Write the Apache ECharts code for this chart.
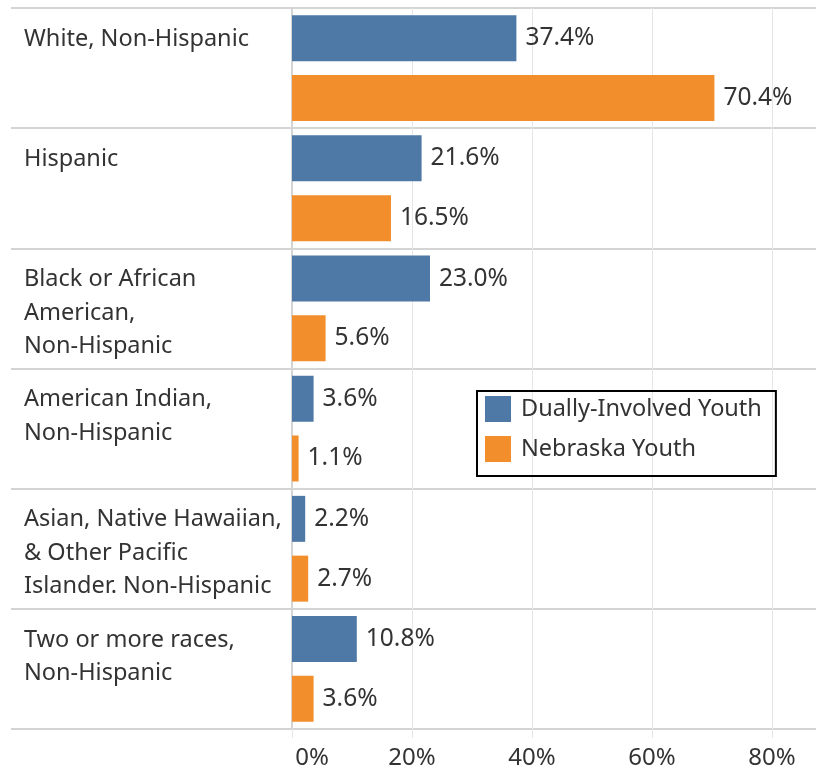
<!DOCTYPE html>
<html>
<head>
<meta charset="utf-8">
<script src="https://cdn.jsdelivr.net/npm/echarts@6/dist/echarts.min.js"></script>
<style>
  html, body { margin: 0; padding: 0; background: #fff; }
  #chart { width: 816px; height: 773px; }
</style>
</head>
<body>
<div id="chart"></div>
<script>
// categories, top to bottom
const categories = [
  'White, Non-Hispanic',
  'Hispanic',
  'Black or African\nAmerican,\nNon-Hispanic',
  'American Indian,\nNon-Hispanic',
  'Asian, Native Hawaiian,\n& Other Pacific\nIslander. Non-Hispanic',
  'Two or more races,\nNon-Hispanic',
]
const duallyInvolved = [37.4, 21.6, 23.0, 3.6, 2.2, 10.8]
const nebraska = [70.4, 16.5, 5.6, 1.1, 2.7, 3.6]
const xTicks = [0, 20, 40, 60, 80]

const FONT = 'Noto Sans'
const TEXT = '#333'
const LINE = '#d4d4d4'

const chart = echarts.init(document.getElementById('chart'))

const valueLabel = {
  show: true,
  position: 'right',
  distance: 9,
  fontSize: 24.5,
  color: TEXT,
  fontFamily: FONT,
  formatter: (p) => p.value.toFixed(1) + '%',
}

chart.setOption({
  animation: false,
  textStyle: { fontFamily: FONT },
  grid: {
    left: 292,
    width: 530, // runs a bit past the right edge, like the reference
    top: 8,
    height: 721,
    outerBoundsMode: 'none',
  },
  legend: {
    orient: 'vertical',
    left: 477,
    top: 391,
    padding: [5, 14, 14, 8],
    borderColor: '#000',
    borderWidth: 2,
    itemWidth: 26,
    itemHeight: 26,
    itemGap: 14,
    icon: 'rect',
    textStyle: { fontFamily: FONT, fontSize: 23.5, color: TEXT, padding: [0, 0, 0, 5] },
    data: ['Dually-Involved Youth', 'Nebraska Youth'],
  },
  xAxis: {
    type: 'value',
    min: 0,
    max: 88.33,
    interval: 20,
    axisLine: { show: false },
    axisTick: {
      show: true,
      length: 9,
      lineStyle: { color: '#e6e6e6', width: 1 },
    },
    splitLine: {
      show: true,
      lineStyle: { color: '#e6e6e6', width: 1 },
    },
    axisLabel: {
      margin: 17,
      fontSize: 24,
      color: TEXT,
      formatter: function (v) {
        if (xTicks.indexOf(v) < 0) return ''
        if (v === 0) return '{first|0%}'
        return v + '%'
      },
      rich: {
        first: { fontSize: 24, color: TEXT, fontFamily: FONT, padding: [0, 0, 0, 40] },
      },
    },
  },
  yAxis: {
    type: 'category',
    inverse: true,
    data: categories,
    axisLine: { show: true, lineStyle: { color: LINE, width: 2 } },
    axisTick: {
      show: true,
      length: 281,
      lineStyle: { color: LINE, width: 2 },
    },
    splitLine: {
      show: true,
      lineStyle: { color: LINE, width: 2 },
    },
    axisLabel: {
      align: 'left',
      verticalAlign: 'middle',
      margin: 268,
      fontSize: 23.5,
      lineHeight: 33.5,
      color: TEXT,
      formatter: function (v) {
        // short spacer line on top, then pad to three text lines
        const n = v.split('\n').length
        return '{pad| }\n' + v + '\n '.repeat(3 - n)
      },
      rich: {
        pad: { fontSize: 1, lineHeight: 9 },
      },
    },
  },
  series: [
    {
      name: 'Dually-Involved Youth',
      type: 'bar',
      data: duallyInvolved,
      barWidth: 46,
      barGap: '30%',
      itemStyle: { color: '#4e79a7' },
      label: valueLabel,
    },
    {
      name: 'Nebraska Youth',
      type: 'bar',
      data: nebraska,
      barWidth: 46,
      barGap: '30%',
      itemStyle: { color: '#f28e2b' },
      label: valueLabel,
    },
  ],
})
</script>
</body>
</html>
